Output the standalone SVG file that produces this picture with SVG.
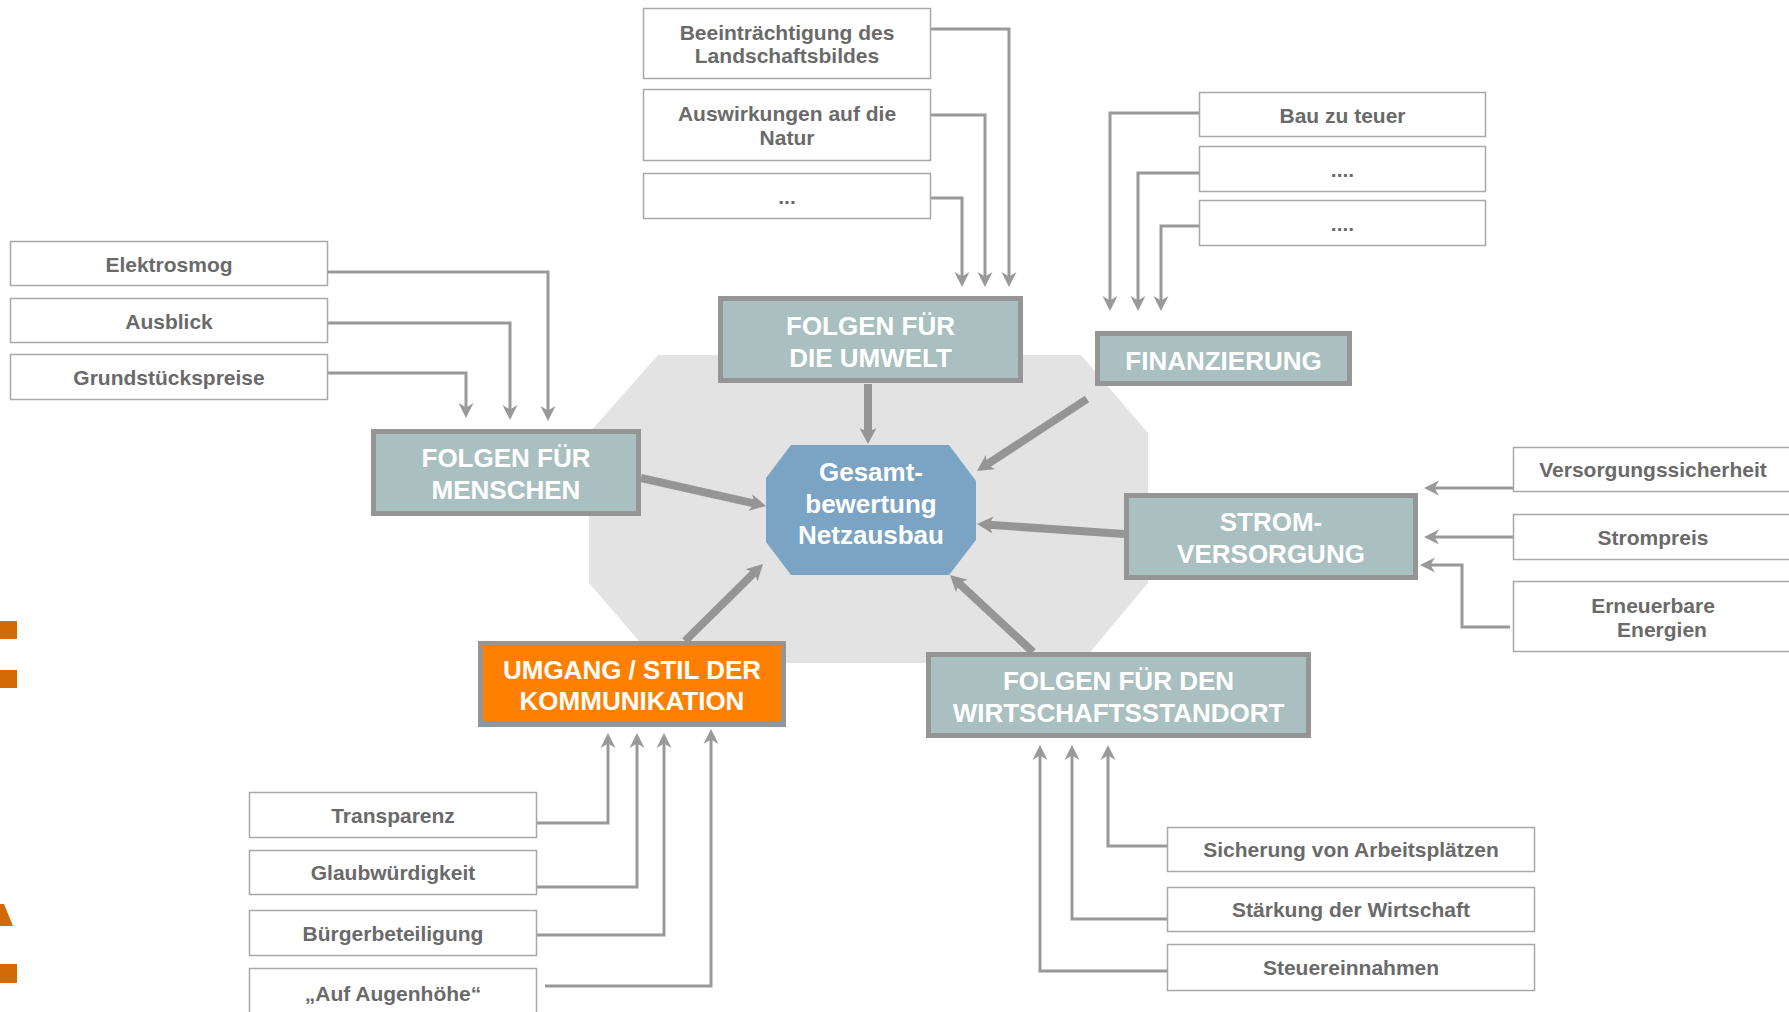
<svg xmlns="http://www.w3.org/2000/svg" width="1789" height="1012" viewBox="0 0 1789 1012">
<style>
.sb{fill:#fff;stroke:#a8a8a8;stroke-width:1.5}
.st{font-family:"Liberation Sans",Arial,sans-serif;font-weight:bold;font-size:21px;fill:#6a6a6a;text-anchor:middle}
.mb{fill:#a9bfc0;stroke:#959595;stroke-width:5}
.ob{fill:#ff7f00;stroke:#959595;stroke-width:5}
.mt{font-family:"Liberation Sans",Arial,sans-serif;font-weight:bold;font-size:26px;fill:#fff;text-anchor:middle}
.thin{fill:none;stroke:#999;stroke-width:3;marker-end:url(#ah)}
.thick{fill:none;stroke:#959595;stroke-width:8;marker-end:url(#ahb)}
.mk{fill:#d36a06}
</style>
<defs>
<marker id="ah" markerUnits="userSpaceOnUse" markerWidth="20" markerHeight="20" viewBox="-10 -10 20 20" refX="0" refY="0" orient="auto" overflow="visible">
<path d="M8,0 L-7,-7.5 L-2.5,0 L-7,7.5 Z" fill="#999"/>
</marker>
<marker id="ahb" markerUnits="userSpaceOnUse" markerWidth="24" markerHeight="24" viewBox="-12 -12 24 24" refX="0" refY="0" orient="auto" overflow="visible">
<path d="M8,0 L-8,-8.5 L-4,0 L-8,8.5 Z" fill="#959595"/>
</marker>
</defs>
<rect width="1789" height="1012" fill="#fff"/>

<g id="background">
<polygon points="658,355 1081,355 1148,433 1148,583 1081,663 658,663 589,583 589,433" fill="#e3e3e3"/>
<rect class="mk" x="0" y="621" width="17" height="18"/>
<rect class="mk" x="0" y="670" width="17" height="18"/>
<polygon class="mk" points="0,904 4,904 13,926 0,926"/>
<rect class="mk" x="0" y="964" width="17" height="19"/>
</g>

<g id="connectors">
<path class="thin" d="M931,29 H1009 V279"/>
<path class="thin" d="M931,115 H985 V279"/>
<path class="thin" d="M931,198 H962 V279"/>
<path class="thin" d="M1199,113 H1110 V303"/>
<path class="thin" d="M1199,173 H1138 V303"/>
<path class="thin" d="M1199,226 H1161 V303"/>
<path class="thin" d="M328,272 H548 V413"/>
<path class="thin" d="M328,323 H510 V412"/>
<path class="thin" d="M328,373 H466 V410"/>
<path class="thin" d="M1513,488 H1432"/>
<path class="thin" d="M1513,537 H1432"/>
<path class="thin" d="M1510,627 H1462 V565 H1428"/>
<path class="thin" d="M537,823 H608 V741"/>
<path class="thin" d="M537,887 H637 V741"/>
<path class="thin" d="M537,935 H664 V741"/>
<path class="thin" d="M545,986 H711 V737"/>
<path class="thin" d="M1167,846 H1108 V753"/>
<path class="thin" d="M1167,919 H1072 V753"/>
<path class="thin" d="M1167,971 H1040 V753"/>
<path class="thick" d="M868,384 V436"/>
<path class="thick" d="M1087,399 L983.7,466.6"/>
<path class="thick" d="M641,478 L758.2,504.3"/>
<path class="thick" d="M685,641 L757.3,569.6"/>
<path class="thick" d="M1124,534 L985,524.5"/>
<path class="thick" d="M1033,652 L955.9,580.5"/>
</g>

<g id="center">
<polygon points="791,445 949,445 976,481 976,540 949,575 791,575 766,542 766,478" fill="#7aa3c4"/>
<text class="mt" x="871" y="481">Gesamt-</text>
<text class="mt" x="871" y="512.5">bewertung</text>
<text class="mt" x="871" y="544">Netzausbau</text>
</g>

<g id="umwelt">
<rect class="mb" x="720.5" y="298.5" width="300" height="82"/>
<text class="mt" x="870.5" y="334.5">FOLGEN FÜR</text>
<text class="mt" x="870.5" y="366.5">DIE UMWELT</text>
</g>
<g id="finanzierung">
<rect class="mb" x="1097.5" y="333.5" width="252" height="50"/>
<text class="mt" x="1223.5" y="369.5">FINANZIERUNG</text>
</g>
<g id="menschen">
<rect class="mb" x="373.5" y="431.5" width="265" height="82"/>
<text class="mt" x="506" y="467">FOLGEN FÜR</text>
<text class="mt" x="506" y="499">MENSCHEN</text>
</g>
<g id="strom">
<rect class="mb" x="1126.5" y="495.5" width="289" height="82"/>
<text class="mt" x="1271" y="530.5">STROM-</text>
<text class="mt" x="1271" y="562.5">VERSORGUNG</text>
</g>
<g id="wirtschaft">
<rect class="mb" x="928.5" y="654.5" width="380" height="81"/>
<text class="mt" x="1118.5" y="689.5">FOLGEN FÜR DEN</text>
<text class="mt" x="1118.5" y="721.5">WIRTSCHAFTSSTANDORT</text>
</g>
<g id="kommunikation">
<rect class="ob" x="480.5" y="643.5" width="303" height="81"/>
<text class="mt" x="632" y="679">UMGANG / STIL DER</text>
<text class="mt" x="632" y="710">KOMMUNIKATION</text>
</g>

<g id="n-landschaft"><rect class="sb" x="643.5" y="8.5" width="287" height="70"/>
<text class="st" x="787" y="39.5">Beeinträchtigung des</text><text class="st" x="787" y="62.5">Landschaftsbildes</text></g>
<g id="n-natur"><rect class="sb" x="643.5" y="89.5" width="287" height="71"/>
<text class="st" x="787" y="120.5">Auswirkungen auf die</text><text class="st" x="787" y="144.5">Natur</text></g>
<g id="n-umwelt-etc"><rect class="sb" x="643.5" y="173.5" width="287" height="45"/>
<text class="st" x="787" y="204">...</text></g>

<g id="n-bau"><rect class="sb" x="1199.5" y="92.5" width="286" height="44"/>
<text class="st" x="1342.5" y="122.5">Bau zu teuer</text></g>
<g id="n-fin2"><rect class="sb" x="1199.5" y="146.5" width="286" height="45"/>
<text class="st" x="1342.5" y="176.5">....</text></g>
<g id="n-fin3"><rect class="sb" x="1199.5" y="200.5" width="286" height="45"/>
<text class="st" x="1342.5" y="230.5">....</text></g>

<g id="n-elektrosmog"><rect class="sb" x="10.5" y="241.5" width="317" height="44"/>
<text class="st" x="169" y="271.5">Elektrosmog</text></g>
<g id="n-ausblick"><rect class="sb" x="10.5" y="298.5" width="317" height="44"/>
<text class="st" x="169" y="328.5">Ausblick</text></g>
<g id="n-grund"><rect class="sb" x="10.5" y="354.5" width="317" height="45"/>
<text class="st" x="169" y="384.5">Grundstückspreise</text></g>

<g id="n-versorgung"><rect class="sb" x="1513.5" y="447.5" width="290" height="44"/>
<text class="st" x="1653" y="477">Versorgungssicherheit</text></g>
<g id="n-strompreis"><rect class="sb" x="1513.5" y="514.5" width="290" height="45"/>
<text class="st" x="1653" y="544.5">Strompreis</text></g>
<g id="n-erneuerbar"><rect class="sb" x="1513.5" y="581.5" width="290" height="70"/>
<text class="st" x="1653" y="612.5">Erneuerbare</text><text class="st" x="1662" y="636.5">Energien</text></g>

<g id="n-transparenz"><rect class="sb" x="249.5" y="792.5" width="287" height="45"/>
<text class="st" x="393" y="822.5">Transparenz</text></g>
<g id="n-glaub"><rect class="sb" x="249.5" y="850.5" width="287" height="44"/>
<text class="st" x="393" y="880">Glaubwürdigkeit</text></g>
<g id="n-buerger"><rect class="sb" x="249.5" y="910.5" width="287" height="45"/>
<text class="st" x="393" y="940.5">Bürgerbeteiligung</text></g>
<g id="n-augen"><rect class="sb" x="249.5" y="968.5" width="287" height="52"/>
<text class="st" x="393" y="1000.5">„Auf Augenhöhe“</text></g>

<g id="n-arbeit"><rect class="sb" x="1167.5" y="827.5" width="367" height="44"/>
<text class="st" x="1351" y="857">Sicherung von Arbeitsplätzen</text></g>
<g id="n-staerkung"><rect class="sb" x="1167.5" y="887.5" width="367" height="44"/>
<text class="st" x="1351" y="917">Stärkung der Wirtschaft</text></g>
<g id="n-steuer"><rect class="sb" x="1167.5" y="944.5" width="367" height="46"/>
<text class="st" x="1351" y="975">Steuereinnahmen</text></g>
</svg>
